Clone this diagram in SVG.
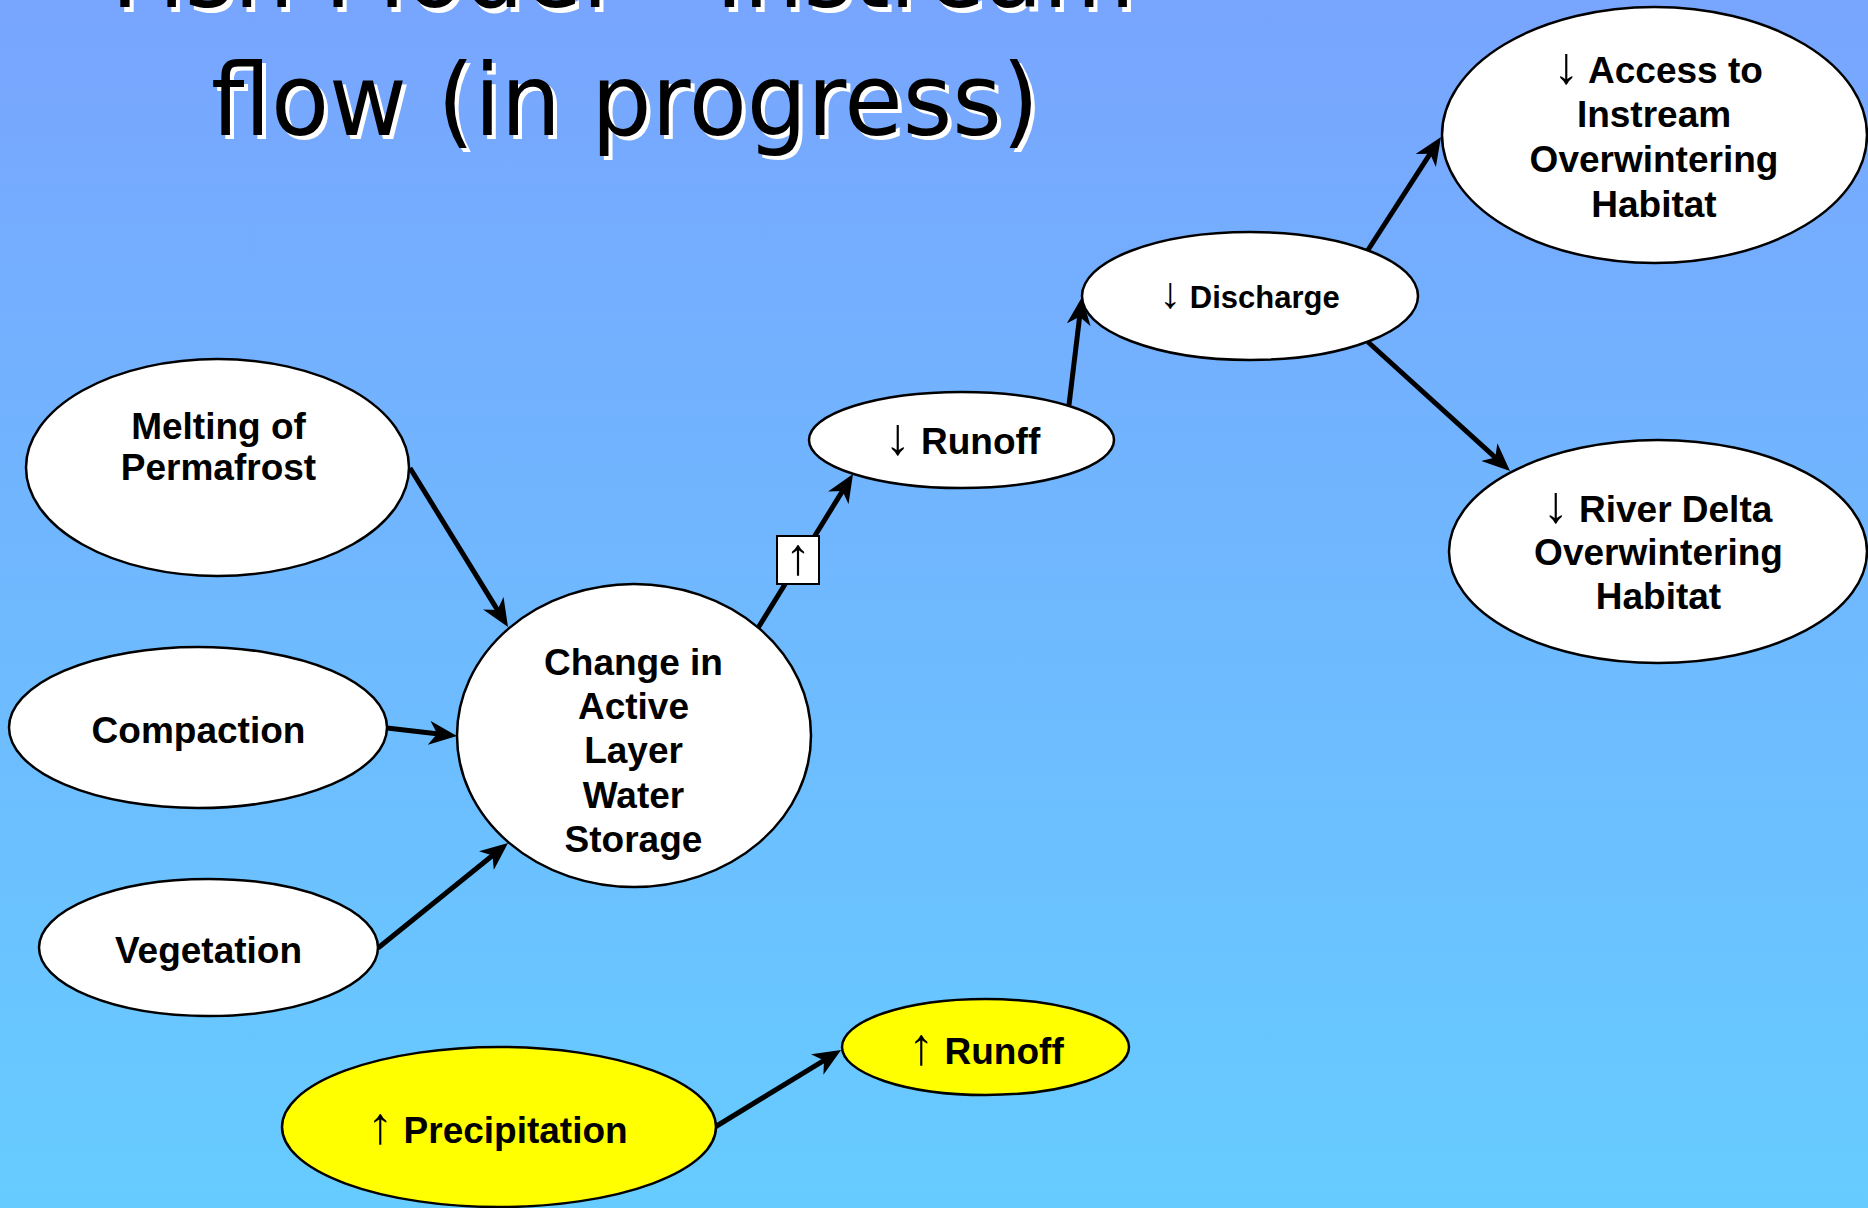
<svg xmlns="http://www.w3.org/2000/svg" width="1868" height="1208" viewBox="0 0 1868 1208">
<defs>
<linearGradient id="bg" x1="0" y1="0" x2="0" y2="1">
<stop offset="0" stop-color="#78A5FE"/>
<stop offset="1" stop-color="#66CCFF"/>
</linearGradient>
<marker id="ah" viewBox="0 0 28 24" refX="12" refY="12" markerWidth="28" markerHeight="24" markerUnits="userSpaceOnUse" orient="auto">
<path d="M28,12 L0,0 L8,12 L0,24 Z" fill="#000"/>
</marker>
<style>
.node{stroke:#000;stroke-width:2.5}
.w{fill:#fff}
.y{fill:#ffff00}
.lbl{font-family:"Liberation Sans",Arial,sans-serif;font-weight:bold;font-size:37px;fill:#000;text-anchor:middle}
.ar{font-weight:normal;font-size:52px}
.con{stroke:#000;stroke-width:5;fill:none;marker-end:url(#ah)}
.title{font-family:"DejaVu Sans",Tahoma,sans-serif;font-size:100px}
</style>
</defs>
<rect x="0" y="0" width="1868" height="1208" fill="url(#bg)"/>
<g id="title" class="title">
<text x="115" y="12" fill="#fff" textLength="1024" lengthAdjust="spacingAndGlyphs">Fish Model – Instream</text>
<text x="111" y="7" fill="#000" textLength="1024" lengthAdjust="spacingAndGlyphs">Fish Model – Instream</text>
<text x="215" y="139" fill="#fff" textLength="828" lengthAdjust="spacingAndGlyphs">flow (in progress)</text>
<text x="211" y="135" fill="#000" textLength="828" lengthAdjust="spacingAndGlyphs">flow (in progress)</text>
</g>
<g id="connectors">
<line class="con" x1="410" y1="468" x2="499.6" y2="613.4"/>
<line class="con" x1="387" y1="728" x2="441.1" y2="734.2"/>
<line class="con" x1="378" y1="948" x2="495.6" y2="853"/>
<line class="con" x1="758" y1="628" x2="844.6" y2="487.6"/>
<line class="con" x1="1069" y1="405" x2="1080.1" y2="312.9"/>
<line class="con" x1="1368" y1="250" x2="1432.3" y2="150.4"/>
<line class="con" x1="1368" y1="342" x2="1498.2" y2="460.2"/>
<line class="con" x1="715" y1="1127" x2="827.4" y2="1058.3"/>
<g id="conlabel">
<rect x="777" y="536" width="42" height="48" fill="#fff" stroke="#000" stroke-width="2"/>
<text x="798" y="574" font-family="Liberation Sans,Arial,sans-serif" font-size="52" text-anchor="middle">↑</text>
</g>
</g>
<g id="n-melting">
<ellipse class="node w" cx="217.5" cy="467.5" rx="191.5" ry="108.5"/>
<text class="lbl" x="218.5" y="439">Melting of</text>
<text class="lbl" x="218.5" y="480">Permafrost</text>
</g>
<g id="n-compaction">
<ellipse class="node w" cx="198" cy="727.5" rx="189" ry="80.5"/>
<text class="lbl" x="198.5" y="743">Compaction</text>
</g>
<g id="n-vegetation">
<ellipse class="node w" cx="208.5" cy="947.5" rx="169.5" ry="68.5"/>
<text class="lbl" x="208.5" y="963">Vegetation</text>
</g>
<g id="n-change">
<ellipse class="node w" cx="634" cy="735.5" rx="177" ry="151.5"/>
<text class="lbl" x="633.5" y="675">Change in</text>
<text class="lbl" x="633.5" y="719">Active</text>
<text class="lbl" x="633.5" y="763">Layer</text>
<text class="lbl" x="633.5" y="808">Water</text>
<text class="lbl" x="633.5" y="852">Storage</text>
</g>
<g id="n-runoff-down">
<ellipse class="node w" cx="961.5" cy="440" rx="152.5" ry="48"/>
<text class="lbl" x="962.5" y="454"><tspan class="ar">↓</tspan> Runoff</text>
</g>
<g id="n-discharge">
<ellipse class="node w" cx="1250" cy="296" rx="168" ry="64"/>
<text class="lbl" x="1249.5" y="308" style="font-size:31px"><tspan class="ar" style="font-size:44px">↓</tspan> Discharge</text>
</g>
<g id="n-access">
<ellipse class="node w" cx="1654.5" cy="135" rx="212.5" ry="128"/>
<text class="lbl" x="1658" y="83"><tspan class="ar">↓</tspan> Access to</text>
<text class="lbl" x="1654" y="127">Instream</text>
<text class="lbl" x="1654" y="172">Overwintering</text>
<text class="lbl" x="1654" y="217">Habitat</text>
</g>
<g id="n-delta">
<ellipse class="node w" cx="1658" cy="551.5" rx="209" ry="111.5"/>
<text class="lbl" x="1657.5" y="522"><tspan class="ar">↓</tspan> River Delta</text>
<text class="lbl" x="1658.5" y="565">Overwintering</text>
<text class="lbl" x="1658.5" y="609">Habitat</text>
</g>
<g id="n-precip">
<ellipse class="node y" cx="499" cy="1127" rx="217" ry="80"/>
<text class="lbl" x="497.5" y="1143"><tspan class="ar">↑</tspan> Precipitation</text>
</g>
<g id="n-runoff-up">
<ellipse class="node y" cx="985.5" cy="1047" rx="143.5" ry="48"/>
<text class="lbl" x="986" y="1064"><tspan class="ar">↑</tspan> Runoff</text>
</g>
</svg>
